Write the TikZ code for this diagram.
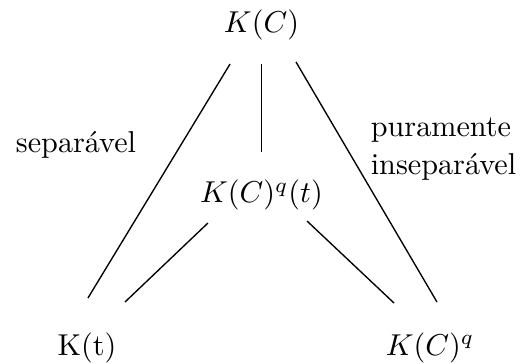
\documentclass[tikz,border=0pt]{standalone}
\usepackage{tikz}
\usetikzlibrary{calc}
\tikzset{
  fld/.style  = {inner sep=0pt, anchor=base},
  lbl/.style  = {inner sep=0pt, align=left},
  ext/.style  = {line width=0.45pt},
}

\begin{document}
\begin{tikzpicture}[x=1cm, y=1cm]
    \useasboundingbox (0,0) rectangle (6.065,4.226);

    \node[fld] (kc)  at (3.044,3.842) {$K(C)$};
    \node[fld] (kqt) at (3.044,1.863) {$K(C)^q(t)$};
    \node[fld] (kt)  at (1.013,0.090) {K(t)};
    \node[fld] (kcq) at (5.006,0.090) {$K(C)^q$};

    \node[lbl, anchor=base] (sep) at (0.885,2.445) {separável};
    \node[lbl, anchor=base west] (pin) at (4.31,2.189) {puramente\\[0.6pt]inseparável};

    % the lines stop short of the texts
    \draw[ext] ([shift={(-0.366,-0.361)}]kc.base) -- ([shift={(0.011,0.667)}]kt.base);
    \draw[ext] ([shift={(0,-0.361)}]kc.base) -- ([shift={(0,0.593)}]kqt.base);
    \draw[ext] ([shift={(0.402,-0.338)}]kc.base) -- ([shift={(0.081,0.620)}]kcq.base);

    \draw[ext] ([shift={(-0.623,-0.233)}]kqt.base) -- ([shift={(0.442,0.620)}]kt.base);
    \draw[ext] ([shift={(0.530,-0.210)}]kqt.base) -- ([shift={(-0.419,0.608)}]kcq.base);
\end{tikzpicture}
\end{document}
